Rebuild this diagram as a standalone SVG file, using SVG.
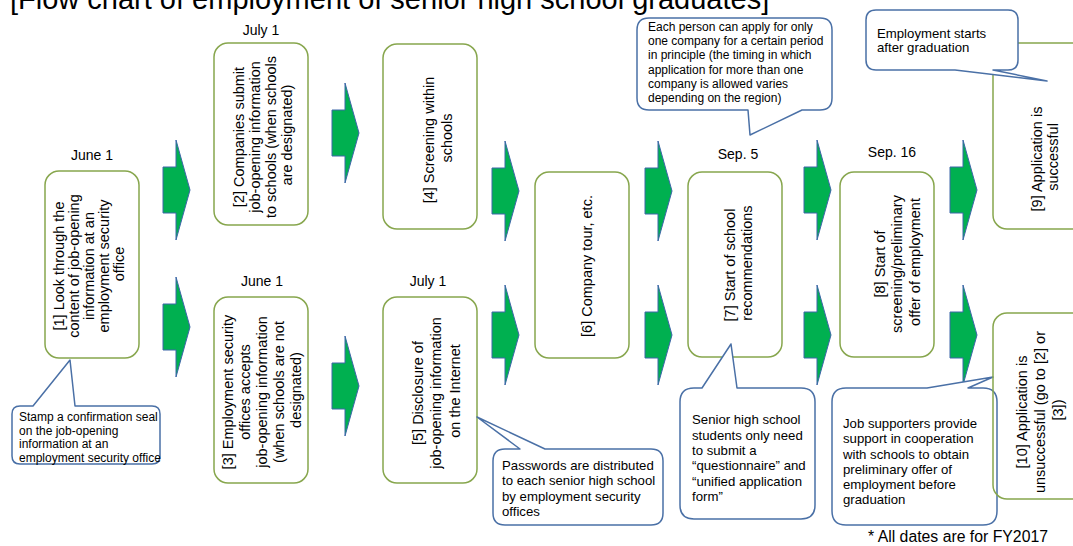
<svg xmlns="http://www.w3.org/2000/svg" xmlns:xlink="http://www.w3.org/1999/xlink" width="1073" height="546" viewBox="0 0 1073 546">
  <style>
    text { font-family: "Liberation Sans", Arial, sans-serif; fill: #000; }
    .title { font-size: 29px; }
    .date { font-size: 14px; text-anchor: middle; }
    .step rect { fill: #fff; stroke: #87A64D; stroke-width: 1.5; }
    .step text { font-size: 14.5px; text-anchor: middle; }
    .note path { fill: #fff; stroke: #4A70A6; stroke-width: 1.5; stroke-linejoin: round; }
    .note text { font-size: 12px; }
    .note text.big { font-size: 13.2px; }
    .arrow { fill: #00B050; stroke: #3D66A8; stroke-width: 1; stroke-linejoin: miter; }
    .foot { font-size: 15.8px; }
  </style>
  <defs>
    <!-- block arrow: shaft on the left, tall head on the right -->
    <polygon id="blockArrow" points="0,-23 13,-23 13,-50 27,0 13,50 13,23 0,23"/>
  </defs>

  <rect width="1073" height="546" fill="#fff"/>

  <text class="title" x="10" y="9">[Flow chart of employment of senior high school graduates]</text>

  <!-- date labels -->
  <text class="date" x="92" y="160">June 1</text>
  <text class="date" x="261" y="35">July 1</text>
  <text class="date" x="262" y="286">June 1</text>
  <text class="date" x="428" y="286">July 1</text>
  <text class="date" x="738" y="159">Sep. 5</text>
  <text class="date" x="892" y="157">Sep. 16</text>

  <!-- connectors -->
  <g id="connectors">
    <use xlink:href="#blockArrow" href="#blockArrow" class="arrow" x="163" y="190"/>
    <use xlink:href="#blockArrow" href="#blockArrow" class="arrow" x="163" y="327"/>
    <use xlink:href="#blockArrow" href="#blockArrow" class="arrow" x="332" y="133"/>
    <use xlink:href="#blockArrow" href="#blockArrow" class="arrow" x="332" y="386"/>
    <use xlink:href="#blockArrow" href="#blockArrow" class="arrow" x="492" y="191"/>
    <use xlink:href="#blockArrow" href="#blockArrow" class="arrow" x="492" y="335"/>
    <use xlink:href="#blockArrow" href="#blockArrow" class="arrow" x="645" y="191"/>
    <use xlink:href="#blockArrow" href="#blockArrow" class="arrow" x="645" y="335"/>
    <use xlink:href="#blockArrow" href="#blockArrow" class="arrow" x="804" y="190"/>
    <use xlink:href="#blockArrow" href="#blockArrow" class="arrow" x="804" y="335"/>
    <use xlink:href="#blockArrow" href="#blockArrow" class="arrow" x="950" y="190"/>
    <use xlink:href="#blockArrow" href="#blockArrow" class="arrow" x="950" y="335"/>
  </g>

  <!-- steps -->
  <g id="step1" class="step">
    <rect x="45" y="171" width="94" height="187" rx="14"/>
    <text transform="translate(89,264) rotate(-90)">
      <tspan x="0" y="-25">[1] Look through the</tspan>
      <tspan x="0" y="-10">content of job-opening</tspan>
      <tspan x="0" y="5">information at an</tspan>
      <tspan x="0" y="20">employment security</tspan>
      <tspan x="0" y="35">office</tspan>
    </text>
  </g>
  <g id="step2" class="step">
    <rect x="214" y="43" width="94" height="182" rx="14"/>
    <text transform="translate(262.5,135) rotate(-90)">
      <tspan x="0" y="-19">[2] Companies submit</tspan>
      <tspan x="0" y="-3">job-opening information</tspan>
      <tspan x="0" y="13">to schools (when schools</tspan>
      <tspan x="0" y="29">are designated)</tspan>
    </text>
  </g>
  <g id="step3" class="step">
    <rect x="214" y="297" width="94" height="186" rx="14"/>
    <text transform="translate(262,390) rotate(-90)">
      <tspan x="0" y="-29">[3] Employment security</tspan>
      <tspan x="0" y="-12">offices accepts</tspan>
      <tspan x="0" y="5">job-opening information</tspan>
      <tspan x="0" y="22">(when schools are not</tspan>
      <tspan x="0" y="39">designated)</tspan>
    </text>
  </g>
  <g id="step4" class="step">
    <rect x="383" y="44" width="94" height="185" rx="14"/>
    <text transform="translate(438,138) rotate(-90)">
      <tspan x="0" y="-4">[4] Screening within</tspan>
      <tspan x="0" y="14">schools</tspan>
    </text>
  </g>
  <g id="step5" class="step">
    <rect x="383" y="297" width="94" height="186" rx="14"/>
    <text transform="translate(436,391) rotate(-90)">
      <tspan x="0" y="-13.5">[5] Disclosure of</tspan>
      <tspan x="0" y="5">job-opening information</tspan>
      <tspan x="0" y="23.5">on the Internet</tspan>
    </text>
  </g>
  <g id="step6" class="step">
    <rect x="535" y="172" width="94" height="186" rx="14"/>
    <text transform="translate(587,266) rotate(-90)">
      <tspan x="0" y="5">[6] Company tour, etc.</tspan>
    </text>
  </g>
  <g id="step7" class="step">
    <rect x="688" y="172" width="94" height="185" rx="14"/>
    <text transform="translate(738.5,263) rotate(-90)">
      <tspan x="0" y="-3.5">[7] Start of school</tspan>
      <tspan x="0" y="13.5">recommendations</tspan>
    </text>
  </g>
  <g id="step8" class="step">
    <rect x="840" y="172" width="94" height="185" rx="14"/>
    <text transform="translate(897,262) rotate(-90)">
      <tspan x="0" y="-12.5">[8] Start of</tspan>
      <tspan x="0" y="5">screening/preliminary</tspan>
      <tspan x="0" y="22.5">offer of employment</tspan>
    </text>
  </g>
  <g id="step9" class="step">
    <rect x="993" y="43" width="100" height="186" rx="14"/>
    <text transform="translate(1045,157) rotate(-90)">
      <tspan x="0" y="-3">[9] Application is</tspan>
      <tspan x="0" y="13">successful</tspan>
    </text>
  </g>

  <!-- callouts -->
  <g id="note-seal" class="note">
    <path d="M20,406 L33,406 L70,360 L75,406 L152,406 Q160,406 160,414 L160,456 Q160,464 152,464 L20,464 Q12,464 12,456 L12,414 Q12,406 20,406 Z"/>
    <text x="19" y="421">Stamp a confirmation seal</text>
    <text x="19" y="434.5">on the job-opening</text>
    <text x="19" y="448">information at an</text>
    <text x="19" y="461.5">employment security office</text>
  </g>
  <g id="note-one-company" class="note">
    <path d="M649,18 L820,18 Q832,18 832,30 L832,98 Q832,110 820,110 L802,110 L750,135 L748,110 L649,110 Q637,110 637,98 L637,30 Q637,18 649,18 Z"/>
    <text x="648" y="31">Each person can apply for only</text>
    <text x="648" y="45">one company for a certain period</text>
    <text x="648" y="59">in principle (the timing in which</text>
    <text x="648" y="73.5">application for more than one</text>
    <text x="648" y="87.5">company is allowed varies</text>
    <text x="648" y="101.5">depending on the region)</text>
  </g>
  <g id="note-graduation" class="note">
    <path d="M876,10 L1008,10 Q1018,10 1018,20 L1018,60 Q1018,70 1008,70 L993,70 L1047,81 L955,70 L876,70 Q866,70 866,60 L866,20 Q866,10 876,10 Z"/>
    <text class="big" x="877" y="38">Employment starts</text>
    <text class="big" x="877" y="52">after graduation</text>
  </g>
  <g id="note-passwords" class="note">
    <path d="M505,449 L520,449 L477,417 L545,449 L651,449 Q663,449 663,461 L663,513 Q663,525 651,525 L505,525 Q493,525 493,513 L493,461 Q493,449 505,449 Z"/>
    <text class="big" x="502" y="469.5">Passwords are distributed</text>
    <text class="big" x="502" y="485">to each senior high school</text>
    <text class="big" x="502" y="500.5">by employment security</text>
    <text class="big" x="502" y="516">offices</text>
  </g>
  <g id="note-questionnaire" class="note">
    <path d="M694,388 L702,388 L731,344 L737,388 L801,388 Q815,388 815,402 L815,505 Q815,519 801,519 L694,519 Q680,519 680,505 L680,402 Q680,388 694,388 Z"/>
    <text class="big" x="692" y="424">Senior high school</text>
    <text class="big" x="692" y="439.5">students only need</text>
    <text class="big" x="692" y="455">to submit a</text>
    <text class="big" x="692" y="470">“questionnaire” and</text>
    <text class="big" x="692" y="485.5">“unified application</text>
    <text class="big" x="692" y="501">form”</text>
  </g>
  <g id="note-supporters" class="note">
    <path d="M846,388 L927,388 L993,377 L968,388 L983,388 Q997,388 997,402 L997,511 Q997,525 983,525 L846,525 Q832,525 832,511 L832,402 Q832,388 846,388 Z"/>
    <text class="big" x="843" y="428">Job supporters provide</text>
    <text class="big" x="843" y="443">support in cooperation</text>
    <text class="big" x="843" y="458.5">with schools to obtain</text>
    <text class="big" x="843" y="474">preliminary offer of</text>
    <text class="big" x="843" y="488.5">employment before</text>
    <text class="big" x="843" y="504">graduation</text>
  </g>

  <!-- step 10 outline sits over the neighbouring callout edge -->
  <g id="step10" class="step">
    <rect x="993" y="313" width="100" height="186" rx="14" style="fill:none"/>
    <text transform="translate(1040,410) rotate(-90)">
      <tspan x="0" y="-13">[10] Application is</tspan>
      <tspan x="0" y="5">unsuccessful (go to [2] or</tspan>
      <tspan x="0" y="23">[3])</tspan>
    </text>
  </g>

  <text class="foot" x="868" y="542">* All dates are for FY2017</text>
</svg>
